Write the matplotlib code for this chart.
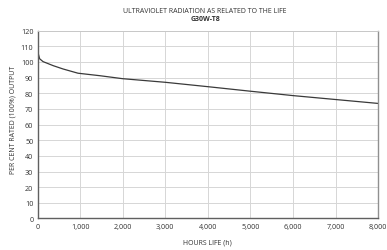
import matplotlib
matplotlib.use("Agg")
import matplotlib.pyplot as plt
from matplotlib.ticker import FuncFormatter

hours = [0, 50, 130, 370, 600, 950, 1466, 2000, 3000, 4000, 5000, 6000, 7000, 8000]
output = [107, 102, 100.2, 97.6, 95.5, 92.8, 91.2, 89.3, 87.0, 84.2, 81.3, 78.5, 76.0, 73.5]
x_ticks = [0, 1000, 2000, 3000, 4000, 5000, 6000, 7000, 8000]
y_ticks = list(range(0, 121, 10))

plt.rcParams['font.family'] = ['Open Sans', 'DejaVu Sans']

fig = plt.figure(figsize=(3.87, 2.51), dpi=100)
ax = fig.add_axes([0.097, 0.1255, 0.88, 0.7485])
ax.plot(hours, output, color='#3a3a3a', lw=0.9)
ax.set_xlim(0, 8000)
ax.set_ylim(0, 120)
ax.set_xticks(x_ticks)
ax.set_yticks(y_ticks)
ax.xaxis.set_major_formatter(FuncFormatter(lambda v, p: f"{int(v):,}"))
ax.grid(True, color='#d6d6d6', lw=0.7)
ax.set_axisbelow(True)
for s in ['left', 'bottom']:
    ax.spines[s].set_color('#606060')
    ax.spines[s].set_linewidth(1.0)
ax.spines['right'].set_color('#909090')
ax.spines['right'].set_linewidth(1.0)
ax.spines['top'].set_color('#c8c8c8')
ax.spines['top'].set_linewidth(0.7)
ax.tick_params(length=0, labelsize=5.2, colors='#333333', pad=3)
ax.set_xlabel("HOURS LIFE (h)", fontsize=5, color='#333333')
ax.set_ylabel("PER CENT RATED (100%) OUTPUT", fontsize=5, color='#333333')
ax.xaxis.set_label_coords(0.5, -0.109)
ax.yaxis.set_label_coords(-0.062, 0.53)
fig.text(0.53, 0.955, "ULTRAVIOLET RADIATION AS RELATED TO THE LIFE", ha='center', va='center', fontsize=5, color='#333333')
fig.text(0.53, 0.922, "G30W-T8", ha='center', va='center', fontsize=5, fontweight='bold', color='#333333')
fig.savefig("out.png", dpi=100)
